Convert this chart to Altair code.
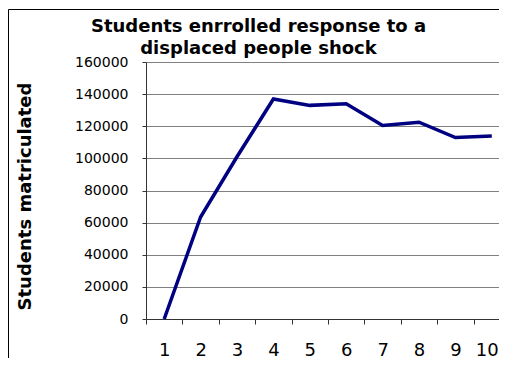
import altair as alt
import pandas as pd

periods = ["1", "2", "3", "4", "5", "6", "7", "8", "9", "10"]
students = [0, 63500, 101000, 137000, 133000, 134000, 120500, 122500, 113000, 114000]
y_ticks = [0, 20000, 40000, 60000, 80000, 100000, 120000, 140000, 160000]
title_lines = ["Students enrrolled response to a", "displaced people shock"]
y_title = "Students matriculated"

df = pd.DataFrame({"period": periods, "students": students})

FONT = "DejaVu Sans"

line = alt.Chart(df).mark_line(color="#000080", strokeWidth=3.5).encode(
    x=alt.X(
        "period:O",
        sort=periods,
        scale=alt.Scale(type="band", paddingInner=0, paddingOuter=0, range=[0, 364]),
        axis=alt.Axis(
            title=None,
            labelAngle=0,
            tickBand="extent",
            tickSize=5,
            tickColor="#333333",
            domainColor="#333333",
            labelFont=FONT,
            labelFontSize=18,
            labelColor="black",
            labelPadding=17,
            labelOffset=alt.expr("datum.value == '10' ? -5 : 0"),
            grid=False,
        ),
    ),
    y=alt.Y(
        "students:Q",
        scale=alt.Scale(domain=[0, 160000], nice=False),
        axis=alt.Axis(
            title=y_title,
            values=y_ticks,
            format="d",
            tickSize=4,
            tickColor="#333333",
            domainColor="#333333",
            gridColor="#808080",
            gridWidth=1,
            labelFont=FONT,
            labelFontSize=14,
            labelColor="black",
            labelPadding=14,
            titleFont=FONT,
            titleFontSize=18,
            titleFontWeight="bold",
            titleColor="black",
            titleX=-121,
            titleY=134,
            titleAngle=270,
            titleAlign="center",
            titleBaseline="middle",
        ),
    ),
)

frame = pd.DataFrame({"b": [0]})
border_left = alt.Chart(frame).mark_rule(color="black", strokeWidth=1).encode(
    x=alt.value(-137.5), y=alt.value(-52.5), y2=alt.value(400)
)
border_top = alt.Chart(frame).mark_rule(color="black", strokeWidth=1).encode(
    x=alt.value(-137.5), x2=alt.value(420), y=alt.value(-52.5)
)

chart = alt.layer(line, border_left, border_top).properties(
    width=353,
    height=257,
    autosize=alt.AutoSizeParams(type="none"),
    padding={"left": 138, "top": 54, "right": 0, "bottom": 39},
    title=alt.TitleParams(
        text=title_lines,
        font=FONT,
        fontSize=18,
        fontWeight="bold",
        color="black",
        anchor="middle",
        dx=-64,
        dy=49,
        offset=0,
        lineHeight=22,
    ),
    background="white",
).configure_view(strokeWidth=0)

chart.save("out.html", embed_options={"renderer": "svg", "actions": False})
